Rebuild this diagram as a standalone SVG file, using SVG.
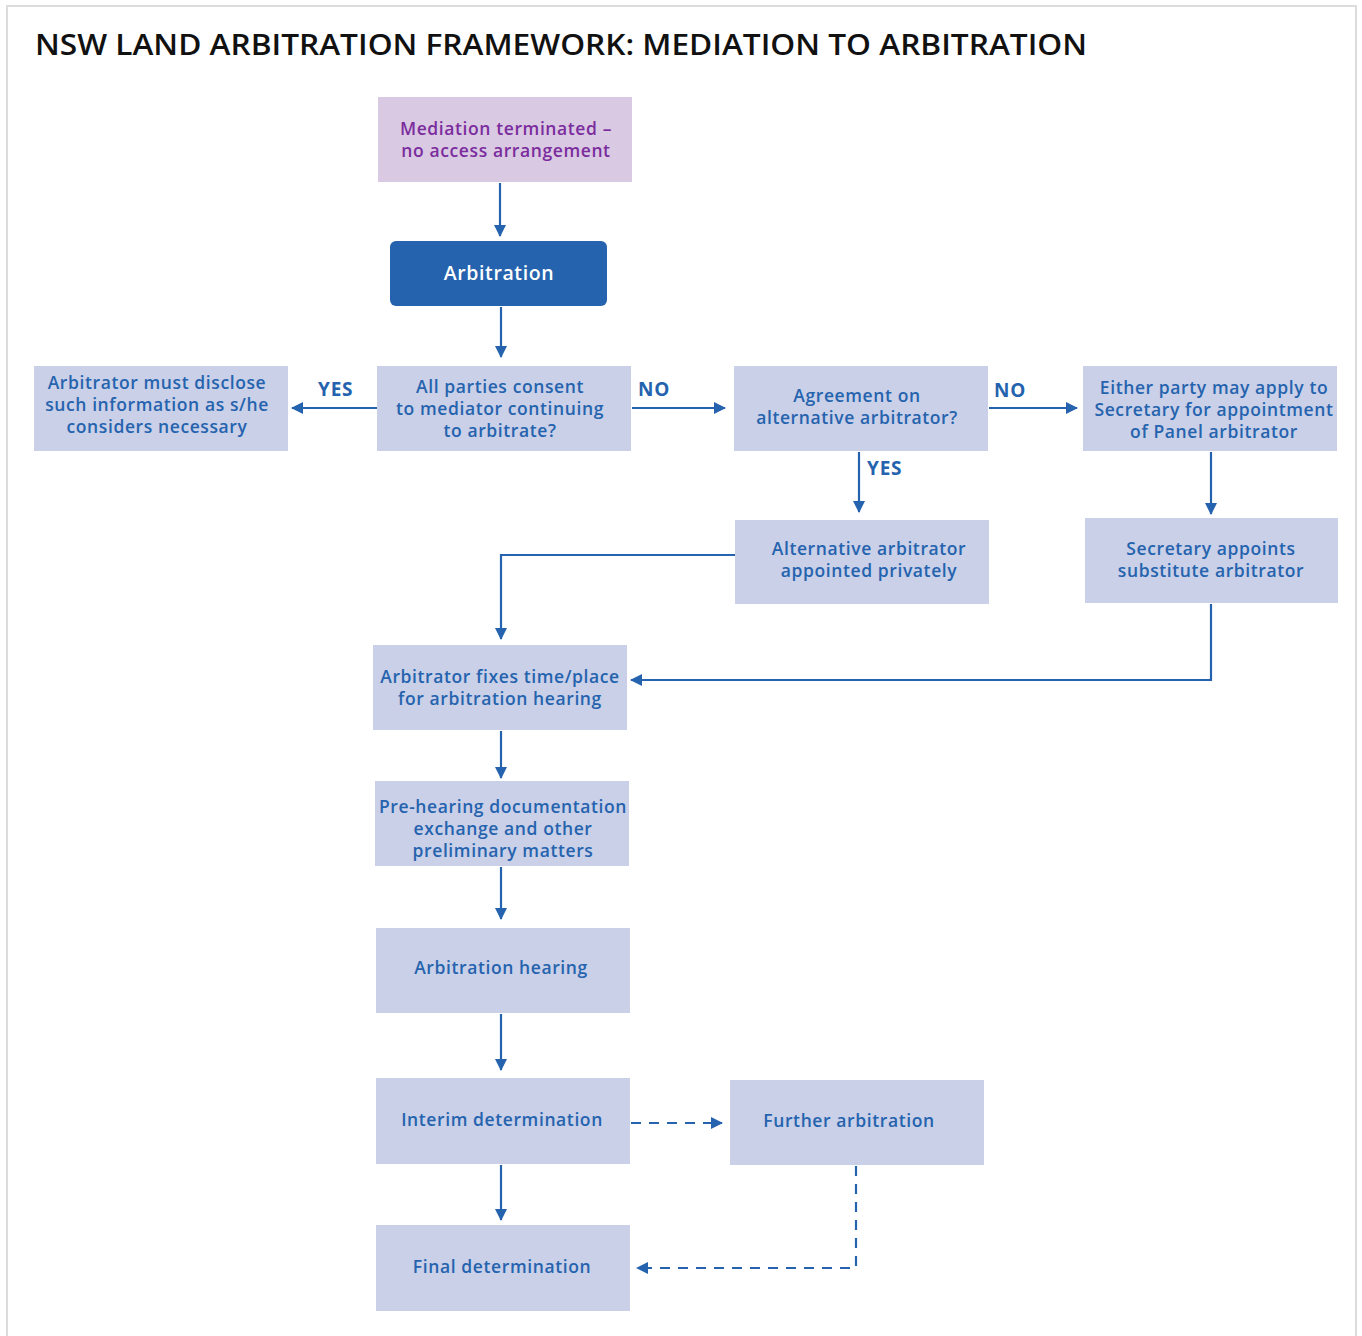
<svg xmlns="http://www.w3.org/2000/svg" width="1362" height="1336" viewBox="0 0 1362 1336">
<defs>
<style>
.box{fill:#c9d0e8;}
.t{font-family:"Open Sans","Liberation Sans",sans-serif;font-size:17.5px;font-weight:600;fill:#2563ae;text-anchor:middle;letter-spacing:0.6px;}
.lbl{font-family:"Open Sans","Liberation Sans",sans-serif;font-size:19px;font-weight:700;fill:#2563ae;letter-spacing:0.8px;}
.ln{fill:none;stroke:#2563ae;stroke-width:2.2;}
.dash{stroke-dasharray:10 8;}
</style>
<marker id="ah" viewBox="0 0 12 12" refX="11" refY="6" markerWidth="12" markerHeight="12" markerUnits="userSpaceOnUse" orient="auto">
<path d="M0,0 L12,6 L0,12 Z" fill="#2563ae"/>
</marker>
</defs>
<rect x="0" y="0" width="1362" height="1336" fill="#ffffff"/>
<rect x="7" y="6" width="1349" height="1340" fill="none" stroke="#dcdcdc" stroke-width="2"/>
<text x="35" y="55" font-family="'Open Sans','Liberation Sans',sans-serif" font-size="28" font-weight="600" fill="#111" textLength="1052" lengthAdjust="spacingAndGlyphs">NSW LAND ARBITRATION FRAMEWORK: MEDIATION TO ARBITRATION</text>

<g id="connectors">
<path class="ln" d="M500,183 V236" marker-end="url(#ah)"/>
<path class="ln" d="M501,307 V357" marker-end="url(#ah)"/>
<path class="ln" d="M377,408 H292" marker-end="url(#ah)"/>
<path class="ln" d="M632,408 H725" marker-end="url(#ah)"/>
<path class="ln" d="M989,408 H1077" marker-end="url(#ah)"/>
<path class="ln" d="M859,452 V512" marker-end="url(#ah)"/>
<path class="ln" d="M1211,452 V514" marker-end="url(#ah)"/>
<path class="ln" d="M735,555 H501 V639" marker-end="url(#ah)"/>
<path class="ln" d="M1211,604 V680 H631" marker-end="url(#ah)"/>
<path class="ln" d="M501,731 V778" marker-end="url(#ah)"/>
<path class="ln" d="M501,867 V919" marker-end="url(#ah)"/>
<path class="ln" d="M501,1014 V1070" marker-end="url(#ah)"/>
<path class="ln" d="M501,1165 V1220" marker-end="url(#ah)"/>
<path class="ln dash" d="M631,1123 H722" marker-end="url(#ah)"/>
<path class="ln dash" d="M856,1166 V1268 H637" marker-end="url(#ah)"/>
<text class="lbl" x="318" y="396">YES</text>
<text class="lbl" x="638" y="396">NO</text>
<text class="lbl" x="994" y="397">NO</text>
<text class="lbl" x="867" y="475">YES</text>
</g>

<g id="n-mediation">
<rect x="378" y="97" width="254" height="85" fill="#dac9e3"/>
<text class="t" style="fill:#7b2d9e"><tspan x="506" y="135">Mediation terminated –</tspan><tspan x="506" y="157">no access arrangement</tspan></text>
</g>
<g id="n-arbitration">
<rect x="390" y="241" width="217" height="65" rx="6" fill="#2563ae"/>
<text class="t" x="499" y="280" style="fill:#ffffff;font-size:19.5px">Arbitration</text>
</g>
<g id="n-disclose">
<rect class="box" x="34" y="366" width="254" height="85"/>
<text class="t"><tspan x="157" y="389">Arbitrator must disclose</tspan><tspan x="157" y="411">such information as s/he</tspan><tspan x="157" y="433">considers necessary</tspan></text>
</g>
<g id="n-consent">
<rect class="box" x="377" y="366" width="254" height="85"/>
<text class="t"><tspan x="500" y="393">All parties consent</tspan><tspan x="500" y="415">to mediator continuing</tspan><tspan x="500" y="437">to arbitrate?</tspan></text>
</g>
<g id="n-agreement">
<rect class="box" x="734" y="366" width="254" height="85"/>
<text class="t"><tspan x="857" y="402">Agreement on</tspan><tspan x="857" y="424">alternative arbitrator?</tspan></text>
</g>
<g id="n-either">
<rect class="box" x="1083" y="366" width="254" height="85"/>
<text class="t"><tspan x="1214" y="394">Either party may apply to</tspan><tspan x="1214" y="416">Secretary for appointment</tspan><tspan x="1214" y="438">of Panel arbitrator</tspan></text>
</g>
<g id="n-alternative">
<rect class="box" x="735" y="520" width="254" height="84"/>
<text class="t"><tspan x="869" y="555">Alternative arbitrator</tspan><tspan x="869" y="577">appointed privately</tspan></text>
</g>
<g id="n-secretary">
<rect class="box" x="1085" y="518" width="253" height="85"/>
<text class="t"><tspan x="1211" y="555">Secretary appoints</tspan><tspan x="1211" y="577">substitute arbitrator</tspan></text>
</g>
<g id="n-fixes">
<rect class="box" x="373" y="645" width="254" height="85"/>
<text class="t"><tspan x="500" y="683">Arbitrator fixes time/place</tspan><tspan x="500" y="705">for arbitration hearing</tspan></text>
</g>
<g id="n-prehearing">
<rect class="box" x="375" y="781" width="254" height="85"/>
<text class="t"><tspan x="503" y="813">Pre-hearing documentation</tspan><tspan x="503" y="835">exchange and other</tspan><tspan x="503" y="857">preliminary matters</tspan></text>
</g>
<g id="n-hearing">
<rect class="box" x="376" y="928" width="254" height="85"/>
<text class="t" x="501" y="974">Arbitration hearing</text>
</g>
<g id="n-interim">
<rect class="box" x="376" y="1078" width="254" height="86"/>
<text class="t" x="502" y="1126">Interim determination</text>
</g>
<g id="n-further">
<rect class="box" x="730" y="1080" width="254" height="85"/>
<text class="t" x="849" y="1127">Further arbitration</text>
</g>
<g id="n-final">
<rect class="box" x="376" y="1225" width="254" height="86"/>
<text class="t" x="502" y="1273">Final determination</text>
</g>
</svg>
